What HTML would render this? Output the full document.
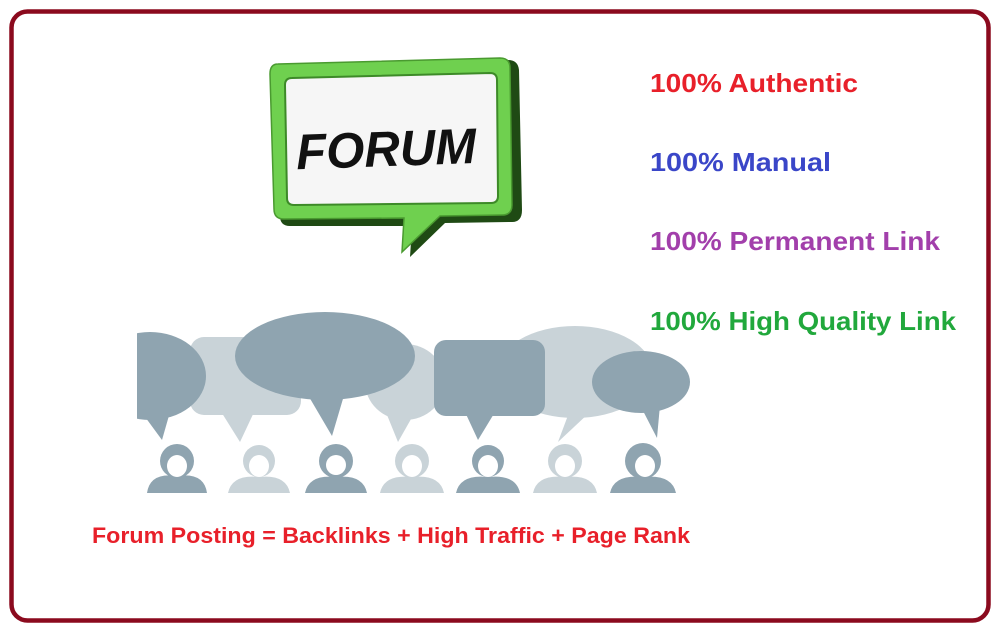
<!DOCTYPE html>
<html><head><meta charset="utf-8"><style>
html,body{margin:0;padding:0;background:#fff;width:1000px;height:633px;overflow:hidden}
svg{display:block}
.t{font-family:"Liberation Sans",sans-serif;font-weight:bold}
</style></head><body>
<svg width="1000" height="633" viewBox="0 0 1000 633" xmlns="http://www.w3.org/2000/svg">
<rect x="11.5" y="11.5" width="977" height="609" rx="16" fill="#fff" stroke="#8b0a1e" stroke-width="4.5"/>

<!-- FORUM bubble -->
<path d="M282 66 L508 60 Q518 60 519 70 L522 210 Q522 222 512 222 L445 223 L410 257 L412 226 L290 226 Q280 226 280 216 L276 76 Q276 66 282 66 Z" fill="#1f4a14"/>
<path d="M278 64 L500 58 Q510 58 510 68 L512 205 Q512 215 502 215 L440 216 L402 252 L404 218 L284 219 Q274 219 274 209 L270 74 Q270 64 278 64 Z" fill="#6fd04f" stroke="#4a9a30" stroke-width="1.5"/>
<path d="M292 78 L490 73 Q497 73 497 80 L498 196 Q498 203 491 203 L294 205 Q287 205 287 198 L285 85 Q285 78 292 78 Z" fill="#f6f6f6" stroke="#3d8a28" stroke-width="2"/>
<text x="296" y="166" class="t" font-size="50" font-style="italic" fill="#111" textLength="180" lengthAdjust="spacingAndGlyphs" transform="rotate(-2 390 145)">FORUM</text>

<!-- people -->
<defs><clipPath id="c"><rect x="137" y="300" width="553" height="194"/></clipPath></defs>
<g clip-path="url(#c)">
<g fill="#c9d3d8">
<rect x="190" y="337" width="111" height="78" rx="14"/><path d="M220 410 L240 442 L255 410Z"/>
<ellipse cx="405" cy="382" rx="40" ry="38"/><path d="M385 410 L398 442 L415 412Z"/>
<ellipse cx="575" cy="372" rx="78" ry="46"/><path d="M570 410 L558 442 L590 412Z"/>
</g>
<g fill="#8fa4b0">
<ellipse cx="150" cy="376" rx="56" ry="44"/><path d="M140 410 L162 440 L172 405Z"/>
<ellipse cx="325" cy="356" rx="90" ry="44"/><path d="M305 390 L332 436 L345 392Z"/>
<rect x="434" y="340" width="111" height="76" rx="12"/><path d="M465 412 L478 440 L495 412Z"/>
<ellipse cx="641" cy="382" rx="49" ry="31"/><path d="M640 405 L657 438 L660 405Z"/>
</g>
<g>
<g fill="#8fa4b0"><circle cx="177" cy="461" r="17"/><path d="M147 493 Q150 472 177 476 Q204 472 207 493Z"/></g>
<g fill="#c9d3d8"><circle cx="259" cy="461" r="16"/><path d="M228 493 Q232 474 259 477 Q286 474 290 493Z"/></g>
<g fill="#8fa4b0"><circle cx="336" cy="461" r="17"/><path d="M305 493 Q309 474 336 477 Q363 474 367 493Z"/></g>
<g fill="#c9d3d8"><circle cx="412" cy="461" r="17"/><path d="M380 493 Q384 474 412 477 Q440 474 444 493Z"/></g>
<g fill="#8fa4b0"><circle cx="488" cy="461" r="16"/><path d="M456 493 Q460 474 488 477 Q516 474 520 493Z"/></g>
<g fill="#c9d3d8"><circle cx="565" cy="461" r="17"/><path d="M533 493 Q537 474 565 477 Q593 474 597 493Z"/></g>
<g fill="#8fa4b0"><circle cx="643" cy="461" r="18"/><path d="M610 493 Q614 474 643 477 Q672 474 676 493Z"/></g>
</g>
<g fill="#fff"><ellipse cx="177" cy="466" rx="10" ry="11"/><ellipse cx="259" cy="466" rx="10" ry="11"/><ellipse cx="336" cy="465" rx="10" ry="10"/><ellipse cx="412" cy="466" rx="10" ry="11"/><ellipse cx="488" cy="466" rx="10" ry="11"/><ellipse cx="565" cy="466" rx="10" ry="11"/><ellipse cx="645" cy="466" rx="10" ry="11"/></g>
</g>

<text x="650" y="92" class="t" font-size="26" fill="#e8202a" textLength="208" lengthAdjust="spacingAndGlyphs">100% Authentic</text>
<text x="650" y="171" class="t" font-size="26" fill="#3a46c8" textLength="181" lengthAdjust="spacingAndGlyphs">100% Manual</text>
<text x="650" y="250" class="t" font-size="26" fill="#a23fab" textLength="290" lengthAdjust="spacingAndGlyphs">100% Permanent Link</text>
<text x="650" y="330" class="t" font-size="26" fill="#21a83c" textLength="306" lengthAdjust="spacingAndGlyphs">100% High Quality Link</text>
<text x="92" y="543" class="t" font-size="22" fill="#e8202a" textLength="598" lengthAdjust="spacingAndGlyphs">Forum Posting = Backlinks + High Traffic + Page  Rank</text>
</svg>
</body></html>
